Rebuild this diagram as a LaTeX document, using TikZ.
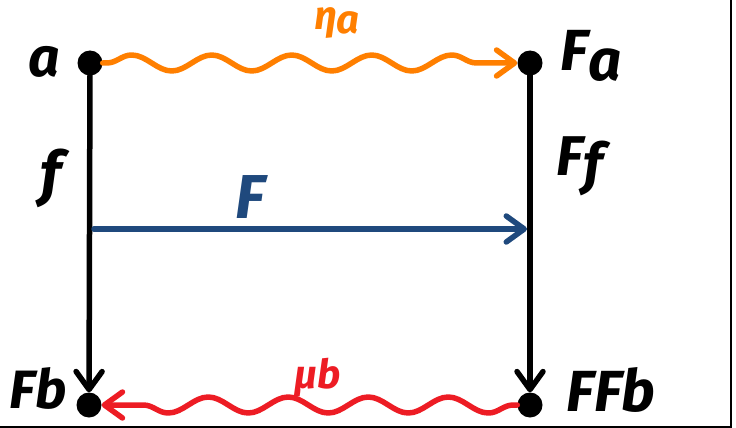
\documentclass[tikz,border=0pt]{standalone}
\usepackage{fontspec}
\setmainfont{Fira Sans}
\usetikzlibrary{arrows.meta,decorations.pathmorphing}
\definecolor{hOrange}{RGB}{255,127,0}
\definecolor{hRed}{RGB}{237,28,36}
\definecolor{hBlue}{RGB}{31,73,125}
\begin{document}
\begin{tikzpicture}[x=1pt,y=-1pt,
  dotnode/.style={circle,fill=black,inner sep=0pt,minimum size=25pt},
  edge/.style={line width=5.5pt,line cap=round,line join=round},
  tip/.style={-{Straight Barb[length=18pt,width=26pt,round]}},
  wavy/.style={decorate,decoration={snake,amplitude=8pt,segment length=80pt,pre length=4pt,post length=18pt}},
  lab/.style={inner sep=0pt,font=\bfseries\itshape\fontsize{#1}{#1}\selectfont},
  lab/.default=58]
\useasboundingbox (0,0) rectangle (736,428);
\fill[white] (0,0) rectangle (736,428);
\draw[line width=2pt] (0,427) -- (731,427) -- (731,0);
% dots
\node[dotnode] (a) at (90,63) {};
\node[dotnode] (Fa) at (530,63) {};
\node[dotnode] (Fb) at (89,405) {};
\node[dotnode] (FFb) at (530,405) {};
% vertical arrows
\draw[edge,tip] (a) -- (Fb);
\draw[edge,tip] (Fa) -- (FFb);
% blue arrow
\coordinate (Fs) at (94,229);
\coordinate (Fe) at (527,229);
\draw[edge,hBlue,tip] (Fs) -- (Fe);
% wavy arrows
\draw[edge,hOrange,tip,wavy] (a) -- (Fa);
\draw[edge,hRed,tip,wavy] (FFb) -- (Fb);
% labels
\node[lab=55] (la) at (44,62) {a};
\node[lab=58] (lFa) at (591,56) {F\raisebox{-10pt}{a}};
\node[lab=60] (lf) at (51,178) {f};
\node[lab=56] (lFf) at (580,166) {F\raisebox{-8pt}{f}};
\node[lab=62,text=hBlue] (lF) at (250,197) {F};
\node[lab=54] (lFb) at (38,388) {Fb};
\node[lab=58] (lFFb) at (611,390) {FFb};
\node[lab=40,text=hOrange] (leta) at (337,23) {η\raisebox{-4pt}{a}};
\node[lab=40,text=hRed] (lmu) at (318,378) {μb};
\end{tikzpicture}
\end{document}
